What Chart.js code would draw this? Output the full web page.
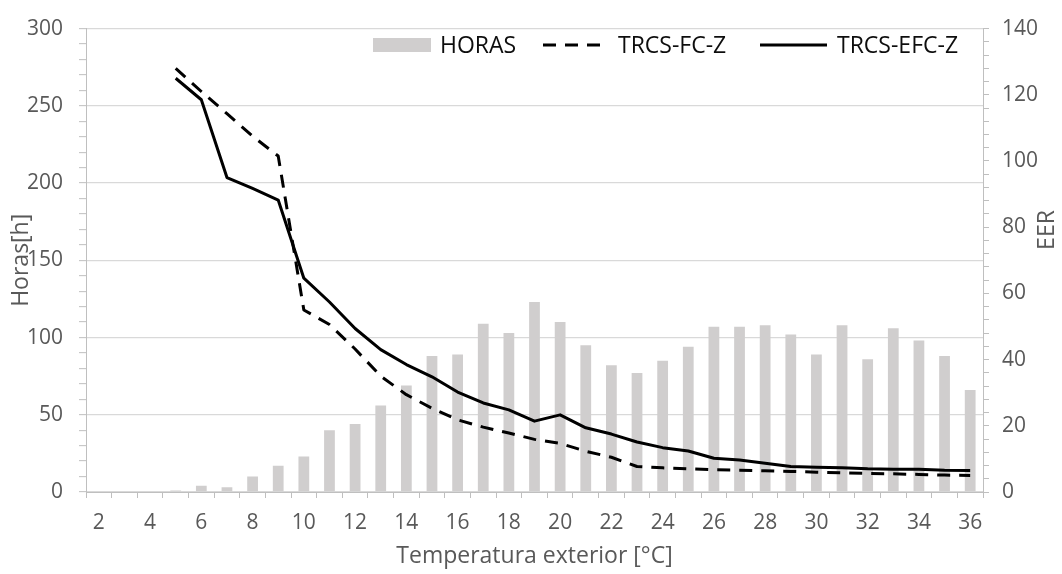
<!DOCTYPE html>
<html>
<head>
<meta charset="utf-8">
<script src="https://cdn.jsdelivr.net/npm/chart.js@4.4.0/dist/chart.umd.min.js"></script>
<style>
  html, body { margin: 0; padding: 0; background: #ffffff; }
  #wrap { width: 1062px; height: 574px; }
</style>
</head>
<body>
<div id="wrap"><canvas id="grafico" width="1062" height="574"></canvas></div>
<script>
// Temperatura exterior (°C), una categoría por grado
const temperaturas = ['2','3','4','5','6','7','8','9','10','11','12','13','14','15','16','17','18','19',
  '20','21','22','23','24','25','26','27','28','29','30','31','32','33','34','35','36'];

// Horas de funcionamiento en cada temperatura
const horas = [0, 0, 0, 1, 4, 3, 10, 17, 23, 40, 44, 56, 69, 88, 89, 109, 103, 123,
  110, 95, 82, 77, 85, 94, 107, 107, 108, 102, 89, 108, 86, 106, 98, 88, 66];

// EER de cada equipo
const eerFC = [null, null, null, 128.0, 121.0, 114.3, 107.5, 101.5, 55.0, 50.6, 43.2, 35.0, 29.4, 25.3, 21.8, 19.6, 17.8, 15.9,
  14.7, 12.3, 10.5, 7.7, 7.3, 7.0, 6.7, 6.6, 6.4, 6.2, 6.0, 5.8, 5.6, 5.5, 5.3, 5.1, 5.0];
const eerEFC = [null, null, null, 125.0, 118.5, 95.0, 91.7, 88.2, 64.6, 57.4, 49.4, 43.0, 38.5, 34.8, 30.2, 26.9, 24.8, 21.4,
  23.3, 19.4, 17.5, 15.1, 13.4, 12.4, 10.2, 9.7, 8.7, 7.7, 7.5, 7.3, 7.0, 6.9, 6.9, 6.6, 6.5];

// Escalas
const horasMax = 300, horasPaso = 10, horasEtiqueta = 50;
const eerMax = 140, eerPaso = 4, eerEtiqueta = 20;

const GRIS_TEXTO = '#595959';
const GRIS_EJE = '#bfbfbf';
const GRIS_REJILLA = '#d9d9d9';
const GRIS_BARRA = '#d0cece';
const FUENTE = '"Open Sans", "Noto Sans", sans-serif';
const DISCONTINUA = [13, 9];

// Leyenda dentro del área del gráfico y título del eje derecho
const extras = {
  id: 'extras',
  afterDraw(chart) {
    const ctx = chart.ctx;
    const ds = chart.data.datasets;
    ctx.save();
    ctx.font = '23px ' + FUENTE;
    ctx.textBaseline = 'alphabetic';
    const yLinea = 45, base = 53;

    // HORAS
    ctx.fillStyle = ds[0].backgroundColor;
    ctx.fillRect(373, 38, 58, 14);
    ctx.fillStyle = '#0d0d0d';
    ctx.fillText(ds[0].label, 440, base);

    // TRCS-FC-Z
    ctx.strokeStyle = ds[1].borderColor;
    ctx.lineWidth = ds[1].borderWidth;
    ctx.setLineDash(ds[1].borderDash);
    ctx.beginPath(); ctx.moveTo(543, yLinea); ctx.lineTo(600, yLinea); ctx.stroke();
    ctx.fillText(ds[1].label, 618, base);

    // TRCS-EFC-Z
    ctx.strokeStyle = ds[2].borderColor;
    ctx.lineWidth = ds[2].borderWidth;
    ctx.setLineDash([]);
    ctx.beginPath(); ctx.moveTo(760, yLinea); ctx.lineTo(827, yLinea); ctx.stroke();
    ctx.fillText(ds[2].label, 837, base);

    // Título del eje EER (leído de abajo arriba)
    ctx.translate(1047, 230);
    ctx.rotate(-Math.PI / 2);
    ctx.font = '23px ' + FUENTE;
    ctx.fillStyle = GRIS_TEXTO;
    ctx.textAlign = 'center';
    ctx.textBaseline = 'middle';
    ctx.fillText('EER', 0, 0);
    ctx.restore();
  }
};

new Chart(document.getElementById('grafico'), {
  type: 'bar',
  data: {
    labels: temperaturas,
    datasets: [
      {
        type: 'bar',
        label: 'HORAS',
        data: horas,
        yAxisID: 'yHoras',
        backgroundColor: GRIS_BARRA,
        borderWidth: 0,
        categoryPercentage: 1,
        barPercentage: 0.42,
        order: 2
      },
      {
        type: 'line',
        label: 'TRCS-FC-Z',
        data: eerFC,
        yAxisID: 'yEER',
        borderColor: '#000000',
        borderWidth: 3,
        borderDash: DISCONTINUA,
        borderJoinStyle: 'round',
        pointRadius: 0,
        tension: 0,
        fill: false,
        order: 1
      },
      {
        type: 'line',
        label: 'TRCS-EFC-Z',
        data: eerEFC,
        yAxisID: 'yEER',
        borderColor: '#000000',
        borderWidth: 3,
        borderJoinStyle: 'round',
        pointRadius: 0,
        tension: 0,
        fill: false,
        order: 0
      }
    ]
  },
  options: {
    responsive: false,
    animation: false,
    devicePixelRatio: 1,
    layout: { padding: { top: 23, right: 0, bottom: 0, left: 0 } },
    plugins: {
      legend: { display: false },
      tooltip: { enabled: false },
      title: { display: false }
    },
    scales: {
      x: {
        offset: true,
        grid: {
          offset: true,
          drawOnChartArea: false,
          drawTicks: true,
          tickLength: 6,
          tickColor: GRIS_EJE
        },
        border: { color: GRIS_EJE, width: 1 },
        ticks: {
          autoSkip: false,
          maxRotation: 0,
          padding: 12,
          color: GRIS_TEXTO,
          font: { family: FUENTE, size: 21 },
          callback: function (v, i) { return i % 2 === 0 ? this.getLabelForValue(v) : ''; }
        },
        title: {
          display: true,
          text: 'Temperatura exterior [°C]',
          color: GRIS_TEXTO,
          font: { family: FUENTE, size: 23 },
          padding: { top: 0, bottom: 4 }
        },
        afterFit: (s) => { s.height = 82; }
      },
      yHoras: {
        position: 'left',
        min: 0,
        max: horasMax,
        grid: {
          color: (c) => (c.tick && c.tick.value % horasEtiqueta === 0) ? GRIS_REJILLA : 'rgba(0,0,0,0)',
          lineWidth: 1.3,
          drawTicks: true,
          tickLength: 7,
          tickColor: GRIS_EJE,
          tickWidth: 1
        },
        border: { color: GRIS_EJE, width: 1 },
        ticks: {
          stepSize: horasPaso,
          autoSkip: false,
          padding: 16,
          color: GRIS_TEXTO,
          font: { family: FUENTE, size: 21 },
          callback: (v) => (v % horasEtiqueta === 0 ? v : '')
        },
        title: {
          display: true,
          text: 'Horas[h]',
          color: GRIS_TEXTO,
          font: { family: FUENTE, size: 23 },
          padding: { top: 8, bottom: 0 }
        },
        afterFit: (s) => { s.width = 86; }
      },
      yEER: {
        position: 'right',
        min: 0,
        max: eerMax,
        grid: {
          drawOnChartArea: false,
          drawTicks: true,
          tickLength: 6,
          tickColor: GRIS_EJE
        },
        border: { color: GRIS_EJE, width: 1 },
        ticks: {
          stepSize: eerPaso,
          autoSkip: false,
          padding: 13,
          color: GRIS_TEXTO,
          font: { family: FUENTE, size: 21 },
          callback: (v) => (v % eerEtiqueta === 0 ? v : '')
        },
        title: { display: false },
        afterFit: (s) => { s.width = 79; }
      }
    }
  },
  plugins: [extras]
});
</script>
</body>
</html>
